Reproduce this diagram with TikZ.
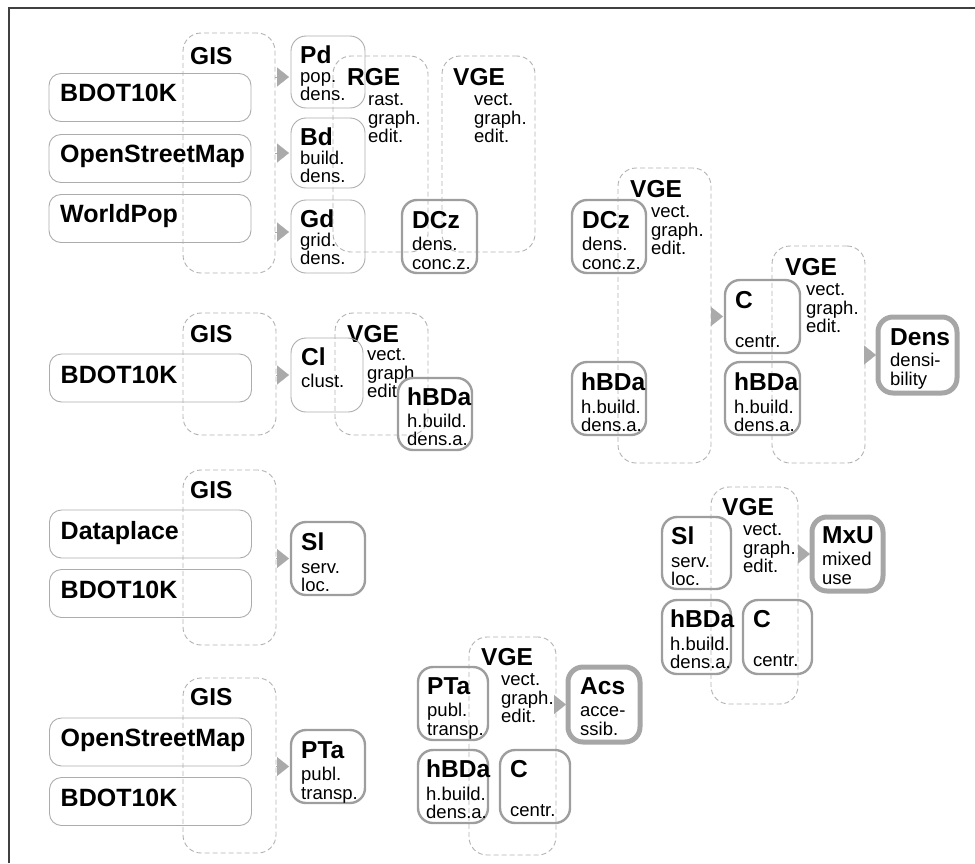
\documentclass[tikz,border=0pt]{standalone}
\usepackage{fontspec}
\setmainfont{Liberation Sans}
\usetikzlibrary{arrows.meta,calc}
\definecolor{thingray}{RGB}{172,172,172}
\definecolor{midgray}{RGB}{158,158,158}
\definecolor{fingray}{RGB}{166,166,166}
\definecolor{dashgray}{RGB}{178,178,178}
\definecolor{tipgray}{RGB}{170,170,170}
\newcommand{\boxhead}{\bfseries\fontsize{24.5}{24}\selectfont}

\begin{document}
\begin{tikzpicture}[x=1pt,y=1pt,yscale=-1,xscale=1,
  src/.style={draw=thingray, line width=0.9pt, rounded corners=12pt, inner sep=0pt, outer sep=0pt, minimum width=202pt, minimum height=48pt},
  res/.style={draw=thingray, line width=0.9pt, rounded corners=15pt, inner sep=0pt, outer sep=0pt, minimum width=74pt, minimum height=73pt},
  resmid/.style={res, draw=midgray, line width=2.4pt},
  resfin/.style={res, draw=fingray, line width=5pt},
  grp/.style={draw=dashgray, dash pattern=on 5pt off 3pt, line width=0.9pt, rounded corners=18pt, inner sep=0pt, outer sep=0pt},
  srctxt/.style={anchor=north west, inner sep=0pt, font=\bfseries\fontsize{25}{25}\selectfont},
  lbl/.style={anchor=north west, inner sep=0pt, align=left, font=\fontsize{18.5}{18.5}\selectfont},
  flow/.style={draw=tipgray, line width=0.1pt, -{Triangle[length=12pt,width=19pt,fill=tipgray]}, shorten >=2pt}
]
\useasboundingbox (0,0) rectangle (975,863);

%Frame
\draw[line width=1.6pt, black!75] (9,863) -- (9,8) -- (975,8);

%%% Block: population, buildings, grid
%Dashed groups
\node[grp, minimum width=92pt, minimum height=240pt] (gisA) at (229,153) {};
\node[grp, minimum width=95pt, minimum height=196pt] (rgeA) at (380.5,154) {};
\node[grp, minimum width=93pt, minimum height=196pt] (vgeA) at (488.5,154) {};
% Text Node
\node[lbl] (gisAT) at (190,47) {\boxhead GIS};
\node[lbl] (rgeAT) at (347,68) {{\boxhead RGE}\\[2pt]\hspace*{21pt}rast.\\\hspace*{21pt}graph.\\\hspace*{21pt}edit.};
\node[lbl] (vgeAT) at (453,68) {{\boxhead VGE}\\[2pt]\hspace*{21pt}vect.\\\hspace*{21pt}graph.\\\hspace*{21pt}edit.};
%Sources
\node[src] (srcA1) at (150,97.5) {};
\node[src] (srcA2) at (150,158.5) {};
\node[src] (srcA3) at (150,218.5) {};
\node[srctxt] (srcA1T) at ($(srcA1.north west)+(11,10)$) {BDOT10K};
\node[srctxt] (srcA2T) at ($(srcA2.north west)+(11,10)$) {OpenStreetMap};
\node[srctxt] (srcA3T) at ($(srcA3.north west)+(11,10)$) {WorldPop};
%Results
\node[res, minimum height=72pt] (pd) at (328,72) {};
\node[res, minimum height=70pt] (bd) at (328,153) {};
\node[res] (gd) at (328,236.5) {};
\node[resmid, minimum width=75pt] (dczA) at (439.5,236.5) {};
\node[lbl] (pdT) at ($(pd.north west)+(9,10)$) {{\boxhead Pd}\\pop.\\dens.};
\node[lbl] (bdT) at ($(bd.north west)+(9,10)$) {{\boxhead Bd}\\build.\\dens.};
\node[lbl] (gdT) at ($(gd.north west)+(9,10)$) {{\boxhead Gd}\\grid.\\dens.};
\node[lbl] (dczAT) at ($(dczA.north west)+(10,11)$) {{\boxhead DCz}\\[4pt]dens.\\conc.z.};
\coordinate (pdin) at ($(pd.west)+(0,5)$);
\coordinate (gdin) at ($(gd.west)+(0,-4.5)$);
\draw[flow] (gisA.east |- pdin) -- (pdin);
\draw[flow] (gisA.east |- bd.west) -- (bd.west);
\draw[flow] (gisA.east |- gdin) -- (gdin);

%%% Block: densibility
\node[grp, minimum width=93pt, minimum height=295pt] (vgeB) at (664.5,315.5) {};
\node[grp, minimum width=93pt, minimum height=217pt] (vgeC) at (818.5,354.5) {};
\node[lbl] (vgeBT) at (630,180) {{\boxhead VGE}\\[2pt]\hspace*{21pt}vect.\\\hspace*{21pt}graph.\\\hspace*{21pt}edit.};
\node[lbl] (vgeCT) at (785,258) {{\boxhead VGE}\\[2pt]\hspace*{21pt}vect.\\\hspace*{21pt}graph.\\\hspace*{21pt}edit.};
\node[resmid] (dczB) at (609,236.5) {};
\node[resmid] (hbdaA) at (609,398.5) {};
\node[resmid, minimum width=75pt] (cA) at (762.5,316.5) {};
\node[resmid, minimum width=75pt] (hbdaB) at (762.5,398.5) {};
\node[resfin, minimum width=79pt, minimum height=76pt] (dens) at (917.5,355) {};
\node[lbl] (dczBT) at ($(dczB.north west)+(10,11)$) {{\boxhead DCz}\\[4pt]dens.\\conc.z.};
\node[lbl] (hbdaAT) at ($(hbdaA.north west)+(9,11)$) {{\boxhead hBDa}\\[4pt]h.build.\\dens.a.};
\node[lbl] (cAT) at ($(cA.north west)+(10,11)$) {{\boxhead C}\\[21pt]centr.};
\node[lbl] (hbdaBT) at ($(hbdaB.north west)+(9,11)$) {{\boxhead hBDa}\\[4pt]h.build.\\dens.a.};
\node[lbl] (densT) at ($(dens.north west)+(12,11)$) {{\boxhead Dens}\\[3pt]densi-\\bility};
\draw[flow] (vgeB.east |- cA.west) -- (cA.west);
\draw[flow] (vgeC.east |- dens.west) -- (dens.west);

%%% Block: clusters
\node[grp, minimum width=93pt, minimum height=122pt] (gisB) at (229.5,374) {};
\node[grp, minimum width=93pt, minimum height=122pt] (vgeD) at (381.5,374) {};
\node[lbl] (gisBT) at (190,325) {\boxhead GIS};
\node[lbl] (vgeDT) at (347,325) {{\boxhead VGE}\\\hspace*{20pt}vect.\\\hspace*{20pt}graph.\\\hspace*{20pt}edit};
\node[src] (srcB1) at (150.5,378) {};
\node[srctxt] (srcB1T) at ($(srcB1.north west)+(11,12)$) {BDOT10K};
\node[res, minimum width=72pt, minimum height=74pt] (cl) at (327,375) {};
\node[resmid, minimum height=72pt] (hbdaC) at (435,414) {};
\node[lbl] (clT) at ($(cl.north west)+(10,10)$) {{\boxhead Cl}\\[3pt]clust.};
\node[lbl] (hbdaCT) at ($(hbdaC.north west)+(9,10)$) {{\boxhead hBDa}\\[3pt]h.build.\\dens.a.};
\draw[flow] (gisB.east |- cl.west) -- (cl.west);

%%% Block: services, mixed use
\node[grp, minimum width=93pt, minimum height=175pt] (gisC) at (229.5,557.5) {};
\node[grp, minimum width=87pt, minimum height=217pt] (vgeE) at (754.5,595.5) {};
\node[lbl] (gisCT) at (190,481) {\boxhead GIS};
\node[lbl] (vgeET) at (722,498) {{\boxhead VGE}\\[2pt]\hspace*{21pt}vect.\\\hspace*{21pt}graph.\\\hspace*{21pt}edit.};
\node[src] (srcC1) at (150.5,534) {};
\node[src] (srcC2) at (150.5,593.5) {};
\node[srctxt] (srcC1T) at ($(srcC1.north west)+(11,11)$) {Dataplace};
\node[srctxt] (srcC2T) at ($(srcC2.north west)+(11,11)$) {BDOT10K};
\node[resmid] (slA) at (328,558.5) {};
\node[resmid, minimum width=69pt, minimum height=72pt] (slB) at (696.5,553) {};
\node[resmid, minimum width=69pt, minimum height=74pt] (hbdaD) at (696.5,637) {};
\node[resmid, minimum width=69pt, minimum height=74pt] (cB) at (777.5,637) {};
\node[resfin, minimum width=71pt, minimum height=74pt] (mxu) at (847.5,554) {};
\node[lbl] (slAT) at ($(slA.north west)+(10,11)$) {{\boxhead Sl}\\[4pt]serv.\\loc.};
\node[lbl] (slBT) at ($(slB.north west)+(9,10)$) {{\boxhead Sl}\\[4pt]serv.\\loc.};
\node[lbl] (hbdaDT) at ($(hbdaD.north west)+(8,10)$) {{\boxhead hBDa}\\[4pt]h.build.\\dens.a.};
\node[lbl] (cBT) at ($(cB.north west)+(10,10)$) {{\boxhead C}\\[21pt]centr.};
\node[lbl] (mxuT) at ($(mxu.north west)+(10,9)$) {{\boxhead MxU}\\[4pt]mixed\\use};
\draw[flow] (gisC.east |- slA.west) -- (slA.west);
\draw[flow] (vgeE.east |- mxu.west) -- (mxu.west);

%%% Block: transport, accessibility
\node[grp, minimum width=93pt, minimum height=175pt] (gisD) at (229.5,765.5) {};
\node[grp, minimum width=87pt, minimum height=218pt] (vgeF) at (512.5,746) {};
\node[lbl] (gisDT) at (190,688) {\boxhead GIS};
\node[lbl] (vgeFT) at (481,648) {{\boxhead VGE}\\[2pt]\hspace*{20pt}vect.\\\hspace*{20pt}graph.\\\hspace*{20pt}edit.};
\node[src] (srcD1) at (150.5,742) {};
\node[src] (srcD2) at (150.5,801.5) {};
\node[srctxt] (srcD1T) at ($(srcD1.north west)+(11,11)$) {OpenStreetMap};
\node[srctxt] (srcD2T) at ($(srcD2.north west)+(11,11)$) {BDOT10K};
\node[resmid] (ptaA) at (328,766.5) {};
\node[resmid, minimum width=70pt] (ptaB) at (453,703.5) {};
\node[resmid, minimum width=70pt] (hbdaE) at (453,786.5) {};
\node[resmid, minimum width=70pt] (cC) at (535,786.5) {};
\node[resfin, minimum width=72pt, minimum height=75pt] (acs) at (604,704.5) {};
\node[lbl] (ptaAT) at ($(ptaA.north west)+(10,11)$) {{\boxhead PTa}\\[4pt]publ.\\transp.};
\node[lbl] (ptaBT) at ($(ptaB.north west)+(9,10)$) {{\boxhead PTa}\\[4pt]publ.\\transp.};
\node[lbl] (hbdaET) at ($(hbdaE.north west)+(8,10)$) {{\boxhead hBDa}\\[4pt]h.build.\\dens.a.};
\node[lbl] (cCT) at ($(cC.north west)+(10,10)$) {{\boxhead C}\\[21pt]centr.};
\node[lbl] (acsT) at ($(acs.north west)+(12,10)$) {{\boxhead Acs}\\[4pt]acce-\\ssib.};
\draw[flow] (gisD.east |- ptaA.west) -- (ptaA.west);
\draw[flow] (vgeF.east |- acs.west) -- (acs.west);

\end{tikzpicture}
\end{document}
